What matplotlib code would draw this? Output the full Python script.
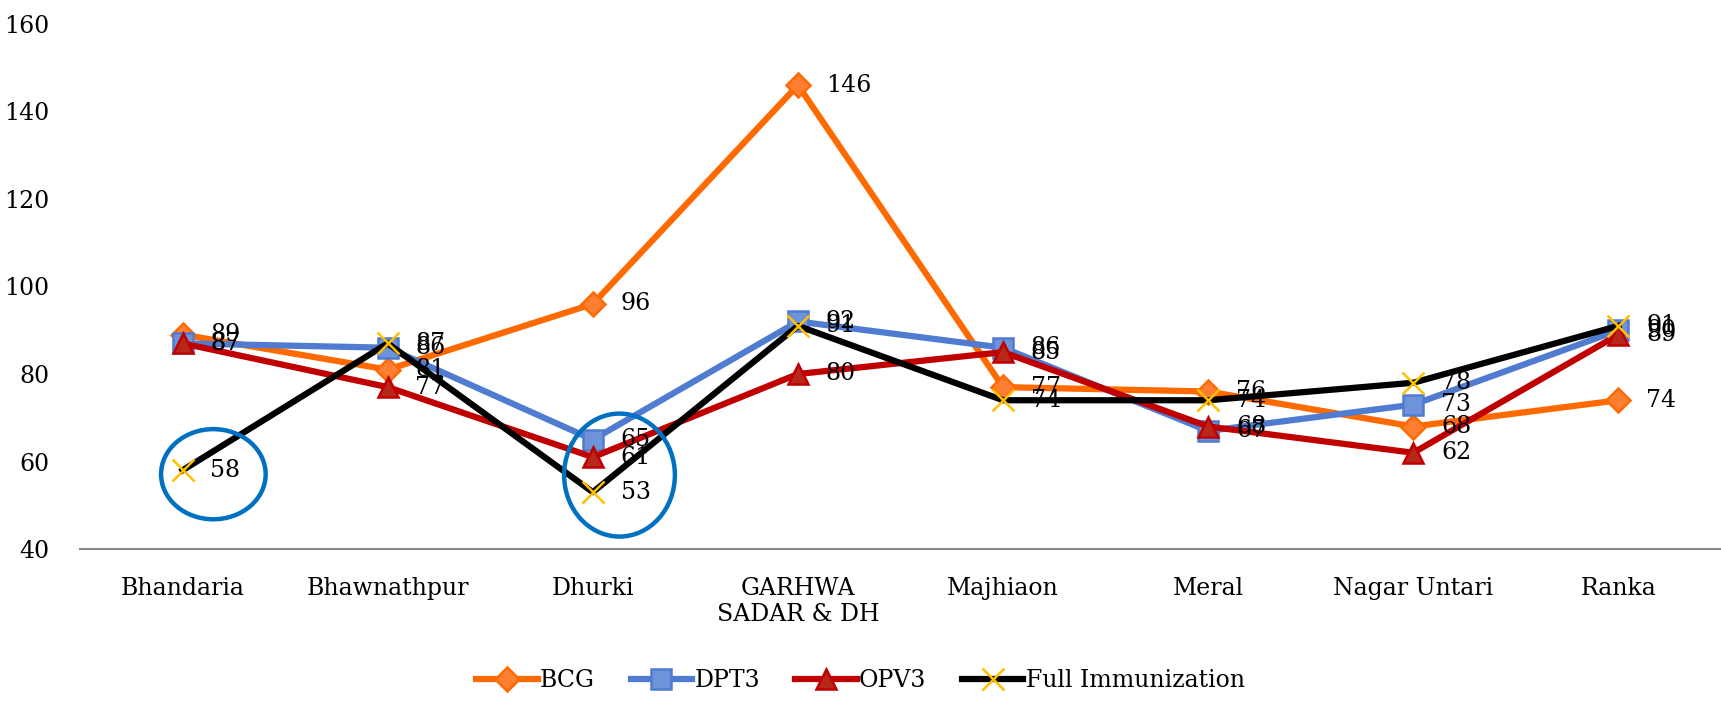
import matplotlib.pyplot as plt
from matplotlib.patches import Ellipse

plt.rcParams['font.family'] = ['DejaVu Serif']

blocks = ["Bhandaria", "Bhawnathpur", "Dhurki", "GARHWA\nSADAR & DH",
          "Majhiaon", "Meral", "Nagar Untari", "Ranka"]
bcg = [89, 81, 96, 146, 77, 76, 68, 74]
dpt3 = [87, 86, 65, 92, 86, 67, 73, 90]
opv3 = [87, 77, 61, 80, 85, 68, 62, 89]
full_imm = [58, 87, 53, 91, 74, 74, 78, 91]

# highlighted points (index into blocks, full immunization)
circled = [0, 2]


def plot_data():
    fig = plt.figure(figsize=(17.21, 7.03), dpi=100)
    ax = fig.add_axes([0.0465, 0.219, 0.9535, 0.747])
    x = list(range(len(blocks)))

    series = [
        ("BCG", bcg, "#FF6A00", "D", "#FF7F32", "#FF6A00", 12),
        ("DPT3", dpt3, "#4F7BD0", "s", "#6F93DB", "#4F7BD0", 15),
        ("OPV3", opv3, "#C00000", "^", "#B8281A", "#C00000", 15),
        ("Full Immunization", full_imm, "black", "x", "#FFC000", "#FFC000", 16),
    ]
    for name, vals, col, mk, mfc, mec, ms in series:
        ax.plot(x, vals, color=col, lw=4.5, marker=mk, markersize=ms,
                markerfacecolor=mfc, markeredgecolor=mec, markeredgewidth=1.8,
                label=name)
        for xi, v in zip(x, vals):
            ax.annotate(str(v), (xi, v), xytext=(20, 0), textcoords="offset points",
                        va="center", ha="left", fontsize=17, color="black")

    # blue circles around the low full immunization values
    sizes = {0: (0.51, 20.6, 0.15, 57.1), 2: (0.54, 28.1, 2.13, 56.9)}
    for i in circled:
        w, h, cx, cy = sizes[i]
        ax.add_patch(Ellipse((cx, cy), w, h, fill=False, edgecolor="#0070C0", lw=3.2,
                             zorder=5))

    ax.set_xlim(-0.5, len(blocks) - 0.5)
    ax.set_ylim(40, 160)
    ax.set_yticks(range(40, 161, 20))
    ax.set_xticks(x)
    ax.set_xticklabels(blocks, fontsize=17)
    ax.tick_params(axis="y", labelsize=17, length=0, pad=22)
    ax.tick_params(axis="x", length=0, pad=20)
    for s in ["top", "right", "left"]:
        ax.spines[s].set_visible(False)
    ax.spines["bottom"].set_color("#888888")
    ax.spines["bottom"].set_linewidth(1.5)

    fig.legend(loc="lower center", ncol=4, frameon=False, fontsize=17,
               bbox_to_anchor=(0.5, -0.015), handlelength=2.6, columnspacing=1.5,
               handletextpad=0.1)

    fig.savefig("out.png", dpi=100)


if __name__ == "__main__":
    plot_data()
